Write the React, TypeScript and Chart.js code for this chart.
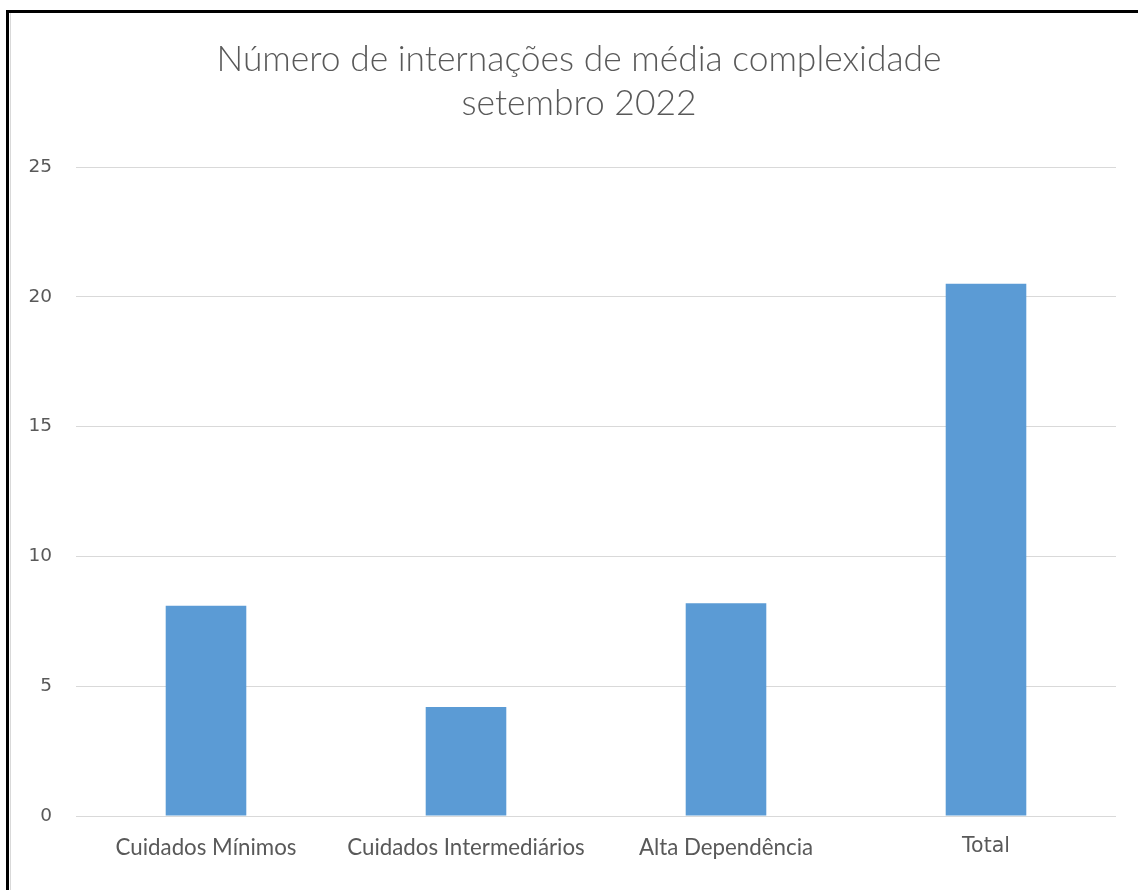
import React, { useEffect, useRef } from "react";
import { Chart, registerables } from "chart.js";

Chart.register(...registerables);

const categories = ["Cuidados Mínimos", "Cuidados Intermediários", "Alta Dependência", "Total"];
const values = [8.1, 4.2, 8.2, 20.5];
const yTicks = [0, 5, 10, 15, 20, 25];
const titleLines = ["Número de internações de média complexidade", "setembro 2022"];

export default function App() {
  const ref = useRef<HTMLCanvasElement | null>(null);

  useEffect(() => {
    if (!ref.current) return;
    const chart = new Chart(ref.current, {
      type: "bar",
      data: {
        labels: categories,
        datasets: [
          {
            data: values,
            backgroundColor: "#5b9bd5",
            borderWidth: 0,
            barPercentage: 0.62,
            categoryPercentage: 0.5,
          },
        ],
      },
      options: {
        responsive: false,
        animation: false,
        maintainAspectRatio: false,
        layout: { padding: { top: 12, right: 0, bottom: 0, left: 20 } },
        plugins: {
          legend: { display: false },
          tooltip: { enabled: false },
          title: {
            display: true,
            text: titleLines,
            color: "#595959",
            font: { family: "Lato", size: 35.4, weight: "300", lineHeight: 44 / 35.4 },
            padding: { top: 26, bottom: 41 },
          },
        },
        scales: {
          x: {
            grid: { display: false, drawTicks: false },
            border: { display: false },
            ticks: {
              color: "#595959",
              padding: 18,
              maxRotation: 0,
              autoSkip: false,
              font: (ctx: any) =>
                ctx.index === 3
                  ? { family: "DejaVu Sans", size: 20.5 }
                  : { family: "Lato", size: 22.3 },
            },
            afterFit: (s: any) => {
              s.height = 74;
            },
          },
          y: {
            min: 0,
            max: 25,
            afterBuildTicks: (s: any) => {
              s.ticks = yTicks.map((v) => ({ value: v }));
            },
            grid: { color: "#d9d9d9", lineWidth: 1, drawTicks: false },
            border: { display: false },
            ticks: {
              color: "#595959",
              padding: 24,
              font: { family: "DejaVu Sans", size: 18.5 },
            },
            afterFit: (s: any) => {
              s.width = 56;
            },
          },
          yRight: {
            position: "right",
            min: 0,
            max: 25,
            grid: { display: false, drawTicks: false },
            border: { display: false },
            ticks: { display: false },
            afterFit: (s: any) => {
              s.width = 22;
            },
          },
        },
      },
    });
    return () => chart.destroy();
  }, []);

  return (
    <div
      style={{
        position: "fixed",
        left: 0,
        top: 0,
        width: 1138,
        height: 890,
        overflow: "hidden",
        background: "#ffffff",
      }}
    >
      <div
        style={{
          position: "absolute",
          left: 6,
          top: 10,
          width: 1200,
          height: 877,
          borderLeft: "3px solid #000",
          borderTop: "3px solid #000",
          borderBottom: "1px solid #d9d9d9",
        }}
      />
      <div
        style={{
          position: "absolute",
          left: 10,
          top: 13,
          width: 1,
          height: 877,
          background: "#d9d9d9",
        }}
      />
      <canvas
        ref={ref}
        width={1138}
        height={890}
        style={{ position: "absolute", left: 0, top: 0, width: 1138, height: 890 }}
      />
    </div>
  );
}
